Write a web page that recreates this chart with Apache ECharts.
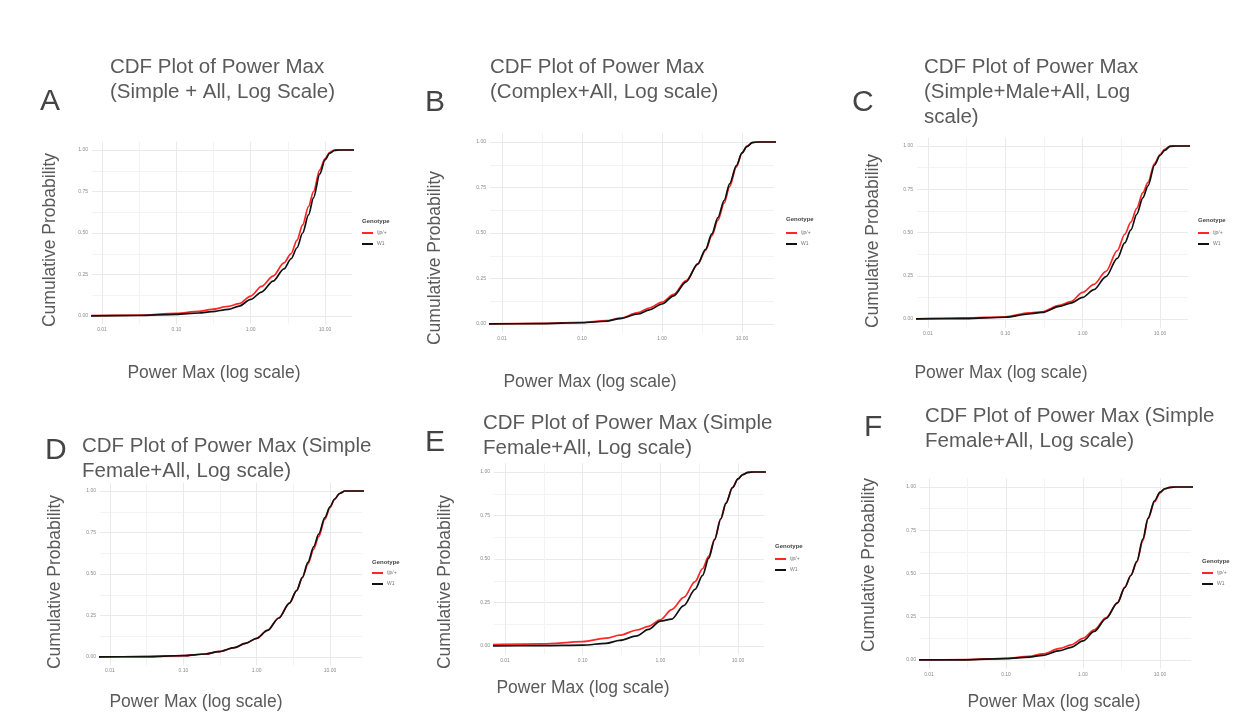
<!DOCTYPE html>
<html>
<head>
<meta charset="utf-8">
<script src="https://cdn.jsdelivr.net/npm/echarts@6/dist/echarts.min.js"></script>
<style>
html,body{margin:0;padding:0;background:#ffffff;}
#chart{width:1249px;height:716px;}
</style>
</head>
<body>
<div id="chart"></div>
<script>
// ---------------- data ----------------
const seriesNames = ['tjp/+', 'W1'];
const xValues = [0.006, 0.03, 0.1, 0.2, 0.3, 0.5, 0.7, 1.0, 1.4, 2.0, 2.8, 3.5, 4.2, 5.0, 6.0, 7.0, 8.5, 10, 11.5, 13.5, 16, 30];
const xTickLabels = [0.01, 0.1, 1, 10];
const xGridValues = [0.01, 0.0316, 0.1, 0.316, 1, 3.16, 10];
const yTickLabels = [0, 0.25, 0.5, 0.75, 1];
const yGridValues = [0, 0.125, 0.25, 0.375, 0.5, 0.625, 0.75, 0.875, 1];
const panelLetters = ['A', 'B', 'C', 'D', 'E', 'F'];
const panelTitles = [
  'CDF Plot of Power Max\n(Simple + All, Log Scale)',
  'CDF Plot of Power Max\n(Complex+All, Log scale)',
  'CDF Plot of Power Max\n(Simple+Male+All, Log\nscale)',
  'CDF Plot of Power Max (Simple\nFemale+All, Log scale)',
  'CDF Plot of Power Max (Simple\nFemale+All, Log scale)',
  'CDF Plot of Power Max (Simple\nFemale+All, Log scale)'
];
const yAxisTitle = 'Cumulative Probability';
const xAxisTitle = 'Power Max (log scale)';
const legendTitle = 'Genotype';

const A_red   = [0.002,0.005,0.016,0.028,0.040,0.058,0.075,0.120,0.178,0.240,0.320,0.376,0.457,0.549,0.659,0.750,0.880,0.948,0.985,1.000,1.000,1.000];
const A_black = [0.001,0.003,0.010,0.018,0.026,0.040,0.060,0.100,0.144,0.210,0.284,0.345,0.411,0.500,0.609,0.712,0.856,0.940,0.980,0.998,1.000,1.000];
const B_red   = [0.001,0.003,0.009,0.018,0.032,0.062,0.088,0.120,0.163,0.238,0.328,0.405,0.485,0.570,0.665,0.755,0.862,0.940,0.977,0.998,1.000,1.000];
const B_black = [0.000,0.002,0.007,0.015,0.030,0.055,0.078,0.110,0.155,0.232,0.330,0.410,0.495,0.585,0.680,0.770,0.870,0.940,0.975,0.997,1.000,1.000];
const C_red   = [0.000,0.006,0.012,0.035,0.042,0.079,0.100,0.154,0.200,0.275,0.395,0.490,0.560,0.640,0.730,0.790,0.900,0.950,0.980,1.000,1.000,1.000];
const C_black = [0.000,0.002,0.010,0.029,0.038,0.073,0.092,0.125,0.170,0.245,0.350,0.440,0.515,0.605,0.700,0.770,0.890,0.945,0.975,0.998,1.000,1.000];
const D_red   = [0.000,0.002,0.008,0.018,0.032,0.056,0.082,0.112,0.160,0.235,0.325,0.400,0.478,0.560,0.650,0.725,0.830,0.900,0.950,0.985,1.000,1.000];
const D_black = [0.000,0.002,0.008,0.018,0.032,0.056,0.082,0.112,0.160,0.235,0.325,0.400,0.480,0.570,0.665,0.740,0.840,0.905,0.950,0.985,1.000,1.000];
const E_red   = [0.008,0.012,0.025,0.045,0.062,0.092,0.113,0.150,0.209,0.279,0.370,0.445,0.517,0.615,0.732,0.823,0.911,0.960,0.985,0.998,1.000,1.000];
const E_black = [0.000,0.002,0.005,0.015,0.032,0.058,0.095,0.143,0.155,0.232,0.325,0.406,0.505,0.610,0.730,0.820,0.910,0.960,0.985,0.998,1.000,1.000];
const F_red   = [0.000,0.002,0.010,0.021,0.035,0.067,0.087,0.125,0.175,0.245,0.330,0.420,0.490,0.565,0.690,0.815,0.915,0.965,0.988,0.998,1.000,1.000];
const F_black = [0.000,0.001,0.008,0.017,0.027,0.054,0.073,0.110,0.165,0.240,0.330,0.420,0.490,0.570,0.700,0.820,0.920,0.970,0.990,0.998,1.000,1.000];
const panelValues = [[A_red, A_black], [B_red, B_black], [C_red, C_black], [D_red, D_black], [E_red, E_black], [F_red, F_black]];

// ---------------- layout (pixels) ----------------
const layout = [
  {letter:[40,101.5],  title:[110,67],  grid:[92,141.7,260,182.6],  xlog:[-2.1345,1.363], yt:[50,240],  xt:[214,373],  leg:[362,221,233]},
  {letter:[425,102.5], title:[490,67],  grid:[490,132.9,284,200.2], xlog:[-2.15,1.40],    yt:[435,258], xt:[590,382],  leg:[786,219,233]},
  {letter:[852,102.5], title:[924,67],  grid:[917,137.35,271,190.3],xlog:[-2.142,1.362],  yt:[873,241], xt:[1001,373], leg:[1198,220,233]},
  {letter:[45,451],    title:[82,446],  grid:[100,482.7,262,182.6], xlog:[-2.136,1.436],  yt:[55,582],  xt:[196,702],  leg:[372,562,573]},
  {letter:[425,443],   title:[483,423], grid:[494,463.3,270,191.4], xlog:[-2.142,1.335],  yt:[445,582], xt:[583,688],  leg:[775,546,559]},
  {letter:[864,428],   title:[925,416], grid:[920,478.35,271,190.3],xlog:[-2.117,1.403],  yt:[869,565], xt:[1054,702], leg:[1202,561,573]}
];
const colors = ['#ff2626', '#111111'];
const FONT = "'Liberation Sans', Arial, sans-serif";

// ---------------- build option ----------------
const grids = [], xAxes = [], yAxes = [], series = [], titles = [], legends = [], graphics = [];
layout.forEach((L, i) => {
  grids.push({left: L.grid[0], top: L.grid[1], width: L.grid[2], height: L.grid[3], containLabel: false});
  xAxes.push({
    type: 'log', logBase: 10, gridIndex: i,
    min: Math.pow(10, L.xlog[0]), max: Math.pow(10, L.xlog[1]),
    axisLine: {show: false},
    axisTick: {show: false, customValues: xGridValues},
    axisLabel: {customValues: xTickLabels, fontSize: 5, color: '#8a8a8a', margin: 3, fontFamily: FONT,
                formatter: v => Number(v).toFixed(2)},
    splitLine: {show: true, lineStyle: {color: ['#eaeaea', '#f3f3f3'], width: 1}}
  });
  yAxes.push({
    type: 'value', gridIndex: i, min: -0.05, max: 1.05,
    axisLine: {show: false},
    axisTick: {show: false, customValues: yGridValues},
    axisLabel: {customValues: yTickLabels, fontSize: 5, color: '#8a8a8a', margin: 4, fontFamily: FONT,
                formatter: v => Number(v).toFixed(2)},
    splitLine: {show: true, lineStyle: {color: ['#eaeaea', '#f3f3f3'], width: 1}}
  });
  panelValues[i].forEach((ys, s) => {
    series.push({
      name: seriesNames[s], type: 'line', xAxisIndex: i, yAxisIndex: i,
      data: xValues.map((x, k) => [x, ys[k]]),
      showSymbol: false, symbol: 'none', clip: true,
      smooth: 0.3, smoothMonotone: 'x',
      lineStyle: {color: colors[s], width: 1.7},
      itemStyle: {color: colors[s]},
      emphasis: {disabled: true}, z: 2 + s
    });
  });
  titles.push({
    text: panelLetters[i], left: L.letter[0], top: L.letter[1] - 16, padding: 0,
    textStyle: {fontSize: 30, fontWeight: 'normal', color: '#444444', fontFamily: FONT, lineHeight: 32}
  });
  titles.push({
    text: panelTitles[i], left: L.title[0], top: L.title[1] - 12.5, padding: 0,
    textStyle: {fontSize: 20.5, fontWeight: 'normal', color: '#5a5a5a', fontFamily: FONT, lineHeight: 25}
  });
  graphics.push({
    type: 'text', x: L.yt[0], y: L.yt[1], rotation: Math.PI / 2,
    style: {text: yAxisTitle, fontSize: 17.5, fontFamily: FONT, fill: '#5a5a5a', align: 'center', verticalAlign: 'middle'}
  });
  graphics.push({
    type: 'text', x: L.xt[0], y: L.xt[1],
    style: {text: xAxisTitle, fontSize: 17.5, fontFamily: FONT, fill: '#5a5a5a', align: 'center', verticalAlign: 'middle'}
  });
  graphics.push({
    type: 'text', x: L.leg[0], y: L.leg[1],
    style: {text: legendTitle, fontSize: 6, fontWeight: 'bold', fontFamily: FONT, fill: '#444444', align: 'left', verticalAlign: 'middle'}
  });
  legends.push({
    data: seriesNames, orient: 'vertical', left: L.leg[0], top: L.leg[2] - 3, padding: 0,
    itemWidth: 11, itemHeight: 2, itemGap: 5, icon: 'rect', selectedMode: false,
    textStyle: {fontSize: 5, color: '#777777', fontFamily: FONT, lineHeight: 6, padding: [0, 0, 0, -1]}
  });
});

const chart = echarts.init(document.getElementById('chart'), null, {renderer: 'canvas'});
chart.setOption({
  backgroundColor: '#ffffff',
  animation: false,
  title: titles,
  legend: legends,
  grid: grids,
  xAxis: xAxes,
  yAxis: yAxes,
  series: series,
  graphic: graphics
});
</script>
</body>
</html>
